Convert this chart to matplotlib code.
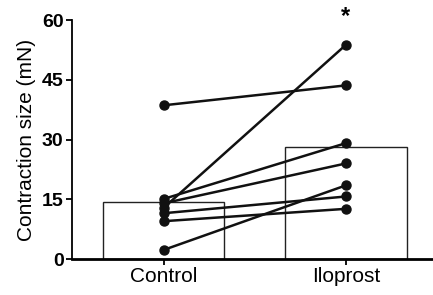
import matplotlib.pyplot as plt

plt.rcParams["font.family"] = ["Liberation Sans", "DejaVu Sans"]

groups = ["Control", "Iloprost"]
bar_means = [14.4, 28.2]
control_vals = [38.6, 15.1, 14.0, 12.9, 11.5, 9.5, 2.3]
iloprost_vals = [43.6, 29.1, 24.0, 53.8, 15.7, 12.6, 18.5]
y_ticks = [0, 15, 30, 45, 60]

fig = plt.figure(figsize=(4.33, 2.95), dpi=100)
ax = fig.add_axes([0.166, 0.122, 0.832, 0.81])

ax.bar([0, 1], bar_means, width=0.665, color="white", edgecolor="#222222", linewidth=1.0, zorder=1)

for c, i in zip(control_vals, iloprost_vals):
    ax.plot([0, 1], [c, i], color="#111111", lw=1.8, marker="o", ms=6.5, zorder=3)

ax.text(1, 61.0, "*", ha="center", va="center", fontsize=17, fontweight="bold", clip_on=False)

ax.set_xlim(-0.505, 1.473)
ax.set_ylim(0, 60)
ax.set_yticks(y_ticks)
ax.set_yticklabels([str(t) for t in y_ticks], fontweight="bold", fontsize=14)
ax.set_xticks([0, 1])
ax.set_xticklabels(groups, fontsize=15)
ax.set_ylabel("Contraction size (mN)", fontsize=15, labelpad=4)

ax.spines["top"].set_visible(False)
ax.spines["right"].set_visible(False)
ax.spines["left"].set_linewidth(1.3)
ax.spines["bottom"].set_linewidth(2)
ax.tick_params(axis="both", width=1.3, length=4, pad=2)

plt.savefig("out.png", dpi=100)
